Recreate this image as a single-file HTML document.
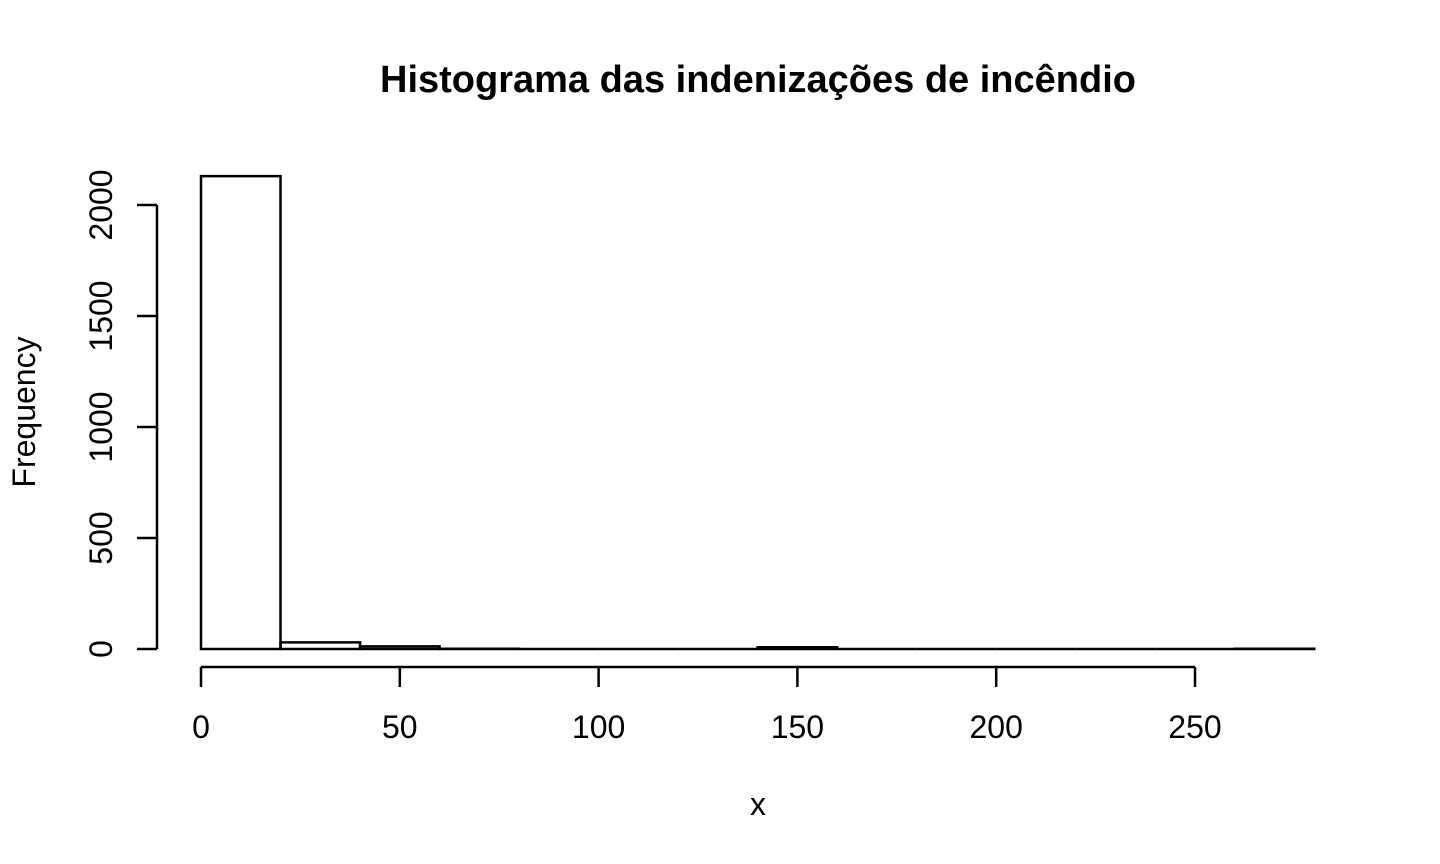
<!DOCTYPE html>
<html><head><meta charset="utf-8"><style>
body{margin:0;background:#fff;}
svg{display:block;font-family:"Liberation Sans",Arial,sans-serif;}
</style></head><body>
<svg id="chart" width="1440" height="864">
<text x="758" y="92" text-anchor="middle" font-size="38" font-weight="bold">Histograma das indenizações de incêndio</text>
<text x="758" y="815" text-anchor="middle" font-size="32">x</text>
<text transform="translate(35,412) rotate(-90)" text-anchor="middle" font-size="32">Frequency</text>
<g id="bars" fill="none" stroke="#000" stroke-width="2.5"></g>
<g id="axes" stroke="#000" stroke-width="2.5" fill="none"></g>
<g id="labels" font-size="32" fill="#000"></g>
</svg>
<script>
const binStarts=[0,20,40,60,80,100,120,140,160,180,200,220,240,260];
const binWidth=20;
const counts=[2130,30,12,1,0,0,0,8,0,0,0,0,0,1];
const xTicks=[0,50,100,150,200,250];
const yTicks=[0,500,1000,1500,2000];
const NS='http://www.w3.org/2000/svg';
const X=v=>201+v*3.976;
const Y=v=>649-v*0.222;
const bars=document.getElementById('bars'),axes=document.getElementById('axes'),labels=document.getElementById('labels');
function mk(tag,attrs,parent){const e=document.createElementNS(NS,tag);for(const k in attrs)e.setAttribute(k,attrs[k]);parent.appendChild(e);return e;}
binStarts.forEach((s,i)=>{
  const x0=X(s),x1=X(s+binWidth),y0=Y(0),y1=Y(counts[i]);
  const r=mk('path',{d:`M${x0},${y0}V${y1}H${x1}V${y0}Z`},bars);
  
  
});
const xa=mk('path',{d:`M${X(xTicks[0])},667H${X(xTicks[xTicks.length-1])}`+xTicks.map(t=>`M${X(t)},667V687`).join('')},axes);


const ya=mk('path',{d:`M157,${Y(yTicks[0])}V${Y(yTicks[yTicks.length-1])}`+yTicks.map(t=>`M157,${Y(t)}H137`).join('')},axes);


xTicks.forEach(t=>{
  const e=mk('text',{x:X(t),y:738,'text-anchor':'middle'},labels);e.textContent=t;
  
  
});
yTicks.forEach(t=>{
  const e=mk('text',{transform:`translate(112,${Y(t)}) rotate(-90)`,'text-anchor':'middle'},labels);e.textContent=t;
  
  
});
</script>
</body></html>
